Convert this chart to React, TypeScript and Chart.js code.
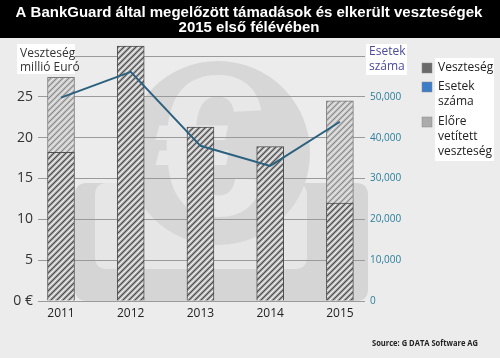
import React, { useEffect, useRef } from 'react';
import { Chart, registerables } from 'chart.js';

Chart.register(...registerables);

const years = [2011, 2012, 2013, 2014, 2015];
const lossValues = [18.2, 31.2, 21.3, 18.9, 12.0];
const projectedValues = [9.2, 0, 0, 0, 12.5];
const caseValues = [49800, 56100, 38000, 33100, 43900];
const lossTicks = [0, 5, 10, 15, 20, 25, 30];
const caseTicks = [0, 10000, 20000, 30000, 40000, 50000, 60000];
const titleLines = ['A BankGuard által megelőzött támadások és elkerült veszteségek', '2015 első félévében'];
const leftAxisTitle = ['Veszteség', 'millió Euró'];
const rightAxisTitle = ['Esetek', 'száma'];
const legendLabels = [['Veszteség'], ['Esetek', 'száma'], ['Előre', 'vetített', 'veszteség']];
const legendColors = ['#6a6a6a', '#3d7dc8', '#ababab'];
const sourceText = 'Source: G DATA Software AG';

const FONT = '"Open Sans", "Noto Sans", sans-serif';

function makePattern(base: string, light: string, dark: string) {
  const c = document.createElement('canvas');
  c.width = 6;
  c.height = 6;
  const g = c.getContext('2d')!;
  g.fillStyle = base;
  g.fillRect(0, 0, 6, 6);
  g.lineWidth = 1.3;
  g.strokeStyle = light;
  g.beginPath();
  g.moveTo(0, 6); g.lineTo(6, 0);
  g.moveTo(-3, 3); g.lineTo(3, -3);
  g.moveTo(3, 9); g.lineTo(9, 3);
  g.stroke();
  g.strokeStyle = dark;
  g.lineWidth = 1;
  g.beginPath();
  g.moveTo(0, 3); g.lineTo(3, 0);
  g.moveTo(3, 6); g.lineTo(6, 3);
  g.stroke();
  return g.createPattern(c, 'repeat')!;
}

function roundRect(ctx: CanvasRenderingContext2D, x: number, y: number, w: number, h: number, r: number) {
  ctx.beginPath();
  ctx.moveTo(x + r, y);
  ctx.lineTo(x + w - r, y);
  ctx.quadraticCurveTo(x + w, y, x + w, y + r);
  ctx.lineTo(x + w, y + h - r);
  ctx.quadraticCurveTo(x + w, y + h, x + w - r, y + h);
  ctx.lineTo(x + r, y + h);
  ctx.quadraticCurveTo(x, y + h, x, y + h - r);
  ctx.lineTo(x, y + r);
  ctx.quadraticCurveTo(x, y, x + r, y);
  ctx.closePath();
}

const backgroundPlugin = {
  id: 'bgdecor',
  beforeDraw(chart: any) {
    const ctx: CanvasRenderingContext2D = chart.ctx;
    const { width, height } = chart;
    ctx.save();
    ctx.fillStyle = '#ececec';
    ctx.fillRect(0, 0, width, height);
    // decorative watermark
    ctx.fillStyle = '#d5d5d5';
    roundRect(ctx, 75, 183, 293, 118, 12);
    ctx.fill();
    ctx.fillStyle = '#e6e6e6';
    roundRect(ctx, 95, 183, 212, 86, 12);
    ctx.fill();
    ctx.fillStyle = '#d7d7d7';
    ctx.beginPath();
    ctx.arc(218, 153, 92, 0, Math.PI * 2);
    ctx.fill();
    ctx.fillStyle = '#e8e8e8';
    ctx.font = 'bold 200px "Liberation Sans", sans-serif';
    ctx.textAlign = 'center';
    ctx.textBaseline = 'middle';
    ctx.fillText('€', 210, 160);
    // title band
    ctx.fillStyle = '#000';
    ctx.fillRect(0, 0, width, 38);
    ctx.fillStyle = '#fff';
    ctx.font = 'bold 15px "Liberation Sans", Arial, sans-serif';
    ctx.textAlign = 'center';
    ctx.textBaseline = 'middle';
    ctx.fillText(titleLines[0], 249, 13);
    ctx.fillText(titleLines[1], 249, 28);
    ctx.restore();
  },
  afterDraw(chart: any) {
    const ctx: CanvasRenderingContext2D = chart.ctx;
    ctx.save();
    ctx.textBaseline = 'middle';
    ctx.textAlign = 'left';
    // left axis title
    ctx.fillStyle = '#fff';
    ctx.fillRect(17, 44, 58, 30);
    ctx.fillStyle = '#333';
    ctx.font = `12px ${FONT}`;
    ctx.fillText(leftAxisTitle[0], 20, 54);
    ctx.fillText(leftAxisTitle[1], 20, 68);
    // right axis title
    ctx.fillStyle = '#fff';
    ctx.fillRect(366, 44, 41, 31);
    ctx.fillStyle = '#4b4b9b';
    ctx.fillText(rightAxisTitle[0], 369, 52);
    ctx.fillText(rightAxisTitle[1], 369, 67);
    // legend
    ctx.fillStyle = '#fff';
    ctx.fillRect(435, 58, 59, 103);
    const starts = [68, 87, 122];
    ctx.font = `12px ${FONT}`;
    legendLabels.forEach((lines, i) => {
      const y0 = starts[i];
      ctx.fillStyle = legendColors[i];
      ctx.fillRect(422, y0 - 5, 10, 10);
      ctx.strokeStyle = '#888';
      ctx.lineWidth = 0.5;
      ctx.strokeRect(422, y0 - 5, 10, 10);
      ctx.fillStyle = '#222';
      lines.forEach((t, j) => ctx.fillText(t, 438, y0 + j * 15));
    });
    // source
    ctx.fillStyle = '#222';
    ctx.font = `bold 9px ${FONT}`;
    ctx.fillText(sourceText, 372, 343, 106);
    ctx.restore();
  },
};

export default function App() {
  const ref = useRef<HTMLCanvasElement>(null);
  useEffect(() => {
    document.body.style.margin = '0';
    const darkPat = makePattern('#9a9a9a', '#f2f2f2', '#4e4e4e');
    const lightPat = makePattern('#bcbcbc', '#e8e8e8', '#8c8c8c');
    const chart = new Chart(ref.current!, {
      type: 'bar',
      data: {
        datasets: [
          {
            type: 'line',
            label: 'Esetek száma',
            data: years.map((x, i) => ({ x, y: caseValues[i] })),
            yAxisID: 'y1',
            xAxisID: 'x',
            borderColor: '#2b617f',
            borderWidth: 2,
            pointRadius: 0,
            tension: 0,
            order: 0,
          } as any,
          {
            type: 'bar',
            label: 'Veszteség',
            data: years.map((x, i) => ({ x, y: lossValues[i] })),
            yAxisID: 'y',
            stack: 'loss',
            backgroundColor: darkPat,
            borderColor: '#505050',
            borderWidth: 1,
            barThickness: 27,
            clip: false as any,
            order: 1,
          },
          {
            type: 'bar',
            label: 'Előre vetített veszteség',
            data: years.map((x, i) => ({ x, y: projectedValues[i] })),
            yAxisID: 'y',
            stack: 'loss',
            backgroundColor: lightPat,
            borderColor: '#7a7a7a',
            borderWidth: 1,
            barThickness: 27,
            clip: false as any,
            order: 1,
          },
        ],
      },
      options: {
        responsive: false,
        animation: false,
        layout: { padding: { top: 56, left: 0, right: 0, bottom: 0 } },
        plugins: { legend: { display: false }, title: { display: false }, tooltip: { enabled: false } },
        scales: {
          x: {
            type: 'linear',
            min: 2010.67,
            max: 2015.36,
            offset: false,
            stacked: true,
            grid: { display: false, drawTicks: false },
            border: { display: false },
            ticks: { color: '#222', font: { size: 12, family: FONT }, padding: 5, callback: (v: any) => String(v) },
            afterBuildTicks: (s: any) => { s.ticks = years.map((v) => ({ value: v })); },
            afterFit: (s: any) => { s.height = 57; },
          },
          y: {
            position: 'left',
            min: 0,
            max: 30,
            stacked: true,
            grid: { color: '#9a9a9a', lineWidth: 1, drawTicks: false },
            border: { display: false },
            ticks: {
              color: '#333',
              font: { size: 14, family: FONT },
              padding: 5,
              callback: (v: any) => (v === 0 ? '0 €' : v === 30 ? '' : String(v)),
            },
            afterBuildTicks: (s: any) => { s.ticks = lossTicks.map((v) => ({ value: v })); },
            afterFit: (s: any) => { s.width = 38; },
          },
          y1: {
            position: 'right',
            min: 0,
            max: 60000,
            grid: { display: false, drawTicks: false },
            border: { display: false },
            ticks: {
              color: '#2a7f9c',
              font: { size: 10, family: FONT },
              padding: 5,
              callback: (v: any) => (v === 60000 ? '' : Number(v).toLocaleString('en-US')),
            },
            afterBuildTicks: (s: any) => { s.ticks = caseTicks.map((v) => ({ value: v })); },
            afterFit: (s: any) => { s.width = 135; },
          },
        },
      },
      plugins: [backgroundPlugin],
    });
    return () => chart.destroy();
  }, []);
  return (
    <div style={{ width: 500, height: 358 }}>
      <canvas ref={ref} width={500} height={358} />
    </div>
  );
}
